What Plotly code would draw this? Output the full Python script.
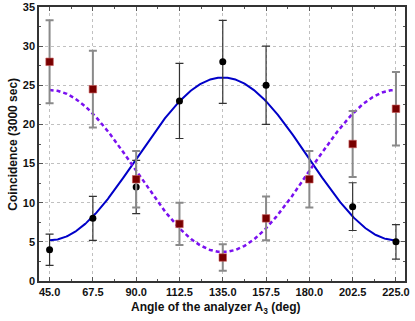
import numpy as np
import plotly.graph_objects as go

# Data
angles_a = [45.0, 67.5, 90.0, 112.5, 135.0, 157.5, 202.5, 225.0]
counts_a = [4.0, 8.0, 12.0, 23.0, 28.0, 25.0, 9.5, 5.0]
err_a = [2.0, 2.8, 3.4, 4.8, 5.3, 5.0, 3.05, 2.2]

angles_b = [45.0, 67.5, 90.0, 112.5, 135.0, 157.5, 180.0, 202.5, 225.0]
counts_b = [28.0, 24.5, 13.0, 7.3, 3.0, 8.0, 13.0, 17.5, 22.0]
err_b = [5.3, 4.9, 3.6, 2.7, 1.7, 2.8, 3.6, 4.2, 4.7]

x_ticks = [45.0, 67.5, 90.0, 112.5, 135.0, 157.5, 180.0, 202.5, 225.0]
y_ticks = [0, 5, 10, 15, 20, 25, 30, 35]

x_title = "Angle of the analyzer A<sub>3</sub> (deg)"
y_title = "Coincidence (3000 sec)"

# Fitted cosine model parameters (offset, amplitude)
fit_a_offset, fit_a_amp = 15.6, -10.4
fit_b_offset, fit_b_amp = 14.05, 10.35
fit_phase = 45.0

theta = np.linspace(45.0, 225.0, 400)
fit_a = fit_a_offset + fit_a_amp * np.cos(np.radians(2 * (theta - fit_phase)))
fit_b = fit_b_offset + fit_b_amp * np.cos(np.radians(2 * (theta - fit_phase)))

fig = go.Figure()
fig.add_trace(go.Scatter(x=theta, y=fit_a, mode="lines",
                         line=dict(color="#0000c8", width=2), showlegend=False))
fig.add_trace(go.Scatter(x=theta, y=fit_b, mode="lines",
                         line=dict(color="#7a10f0", width=2.5, dash="4px,3px"),
                         showlegend=False))
fig.add_trace(go.Scatter(x=angles_a, y=counts_a, mode="markers",
                         marker=dict(color="black", size=7, symbol="circle"),
                         error_y=dict(type="data", array=err_a, visible=True,
                                      color="#333333", thickness=1.2, width=4),
                         showlegend=False))
fig.add_trace(go.Scatter(x=angles_b, y=counts_b, mode="markers",
                         marker=dict(color="#780000", size=7.5, symbol="square",
                                     line=dict(color="rgba(200,90,90,0.6)", width=1)),
                         error_y=dict(type="data", array=err_b, visible=True,
                                      color="#8a8a8a", thickness=2, width=4),
                         showlegend=False))

axis_common = dict(
    showline=True, linecolor="#333333", linewidth=1.5, mirror="allticks",
    ticks="inside", ticklen=4, tickcolor="#555555", tickwidth=1,
    showgrid=True, gridcolor="#c0c0c0", gridwidth=1, griddash="dot",
    zeroline=False, automargin=False,
    tickfont=dict(family="Liberation Sans", size=11, color="#111111", weight="bold"),
)

fig.update_xaxes(range=[39.5, 229.7], tickvals=x_ticks,
                 ticktext=[f"{v:.1f}" for v in x_ticks],
                 minor=dict(dtick=11.25, tick0=45, ticks="inside", ticklen=2.5,
                            tickcolor="#555555", showgrid=False),
                 **axis_common)
fig.update_yaxes(range=[0, 35], tickvals=y_ticks,
                 minor=dict(dtick=2.5, tick0=0, ticks="inside", ticklen=2.5,
                            tickcolor="#555555", showgrid=False),
                 **axis_common)

title_font = dict(family="Liberation Sans", size=12, color="#111111", weight="bold")
fig.add_annotation(text=x_title, xref="paper", yref="paper", x=0.483, y=-0.097,
                   xanchor="center", yanchor="middle", showarrow=False, font=title_font)
fig.add_annotation(text=y_title, xref="paper", yref="paper", x=-0.072, y=0.5,
                   xanchor="center", yanchor="middle", textangle=-90,
                   showarrow=False, font=title_font)

fig.update_layout(width=415, height=321,
                  margin=dict(l=38.5, r=10, t=7, b=39.5, autoexpand=False),
                  paper_bgcolor="white", plot_bgcolor="white",
                  font=dict(family="Liberation Sans"))

fig.write_html("out.html", config={"displayModeBar": False},
               post_script="document.body.style.margin='0';document.body.style.overflow='hidden';")
